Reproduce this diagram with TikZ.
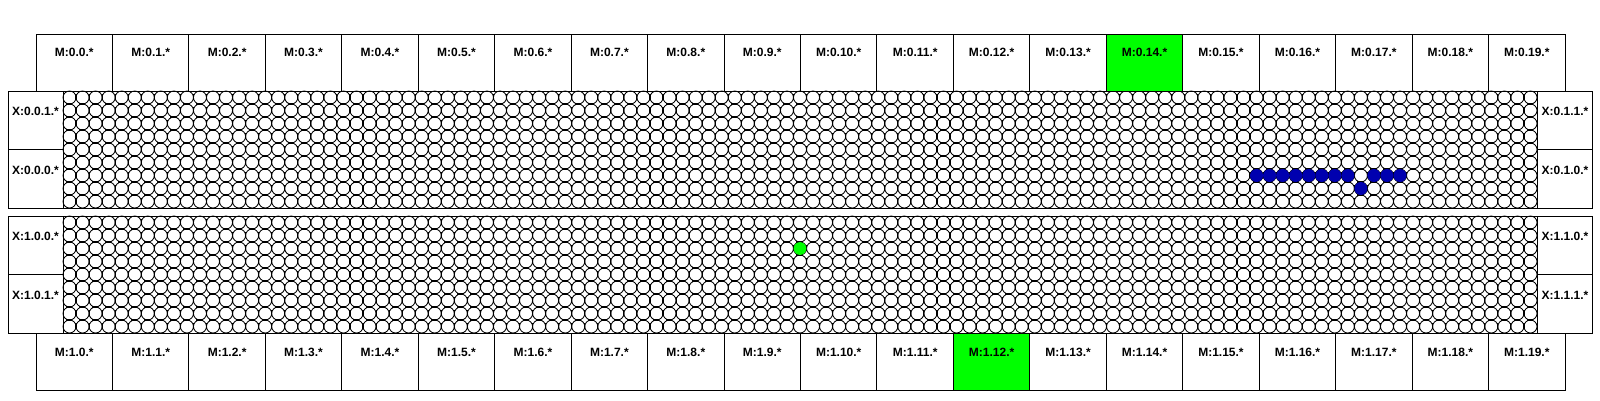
\documentclass[tikz,border=0pt]{standalone}
\usepackage{fontspec}
\setmainfont{Liberation Sans}
\definecolor{hotgreen}{RGB}{0,255,0}
\definecolor{dotblue}{RGB}{0,0,175}
\tikzset{
  boxline/.style={draw=black, line width=1pt},
  mbox/.style={boxline, rectangle, inner sep=0pt, outer sep=0pt, minimum width=76.45pt, minimum height=57pt},
  xbox/.style={boxline, rectangle, inner sep=0pt, outer sep=0pt, minimum width=55pt, minimum height=58.5pt},
  lbl/.style={anchor=base, inner sep=0pt, font=\fontsize{12}{14}\selectfont\bfseries},
  cell/.style={draw=black, line width=0.85pt},
  vtick/.style={draw=black, line width=1.1pt, dash pattern=on 6pt off 7pt, dash phase=10pt},
  htick/.style={draw=black, line width=1.1pt, dash pattern=on 6pt off 7.044pt, dash phase=10.044pt},
  grid/.style={boxline, rectangle, inner sep=0pt, outer sep=0pt, minimum width=1474pt, minimum height=117pt},
}
\begin{document}
\begin{tikzpicture}[x=1pt, y=-1pt]
\useasboundingbox[fill=white] (0,0) rectangle (1600,400);
% circle grids
\foreach \g/\gy in {0/91, 1/216} {
  \foreach \i in {0,...,112} {
    \foreach \j in {0,...,8} {
      \draw[cell] ({63+13.044*\i+6.522}, {\gy+13*\j+6.5}) ellipse [x radius=6.522, y radius=6.5];
    }
  }
  % corner crosses between touching circles
  \foreach \i in {1,...,112} {
    \draw[vtick] ({63+13.044*\i}, \gy) -- ({63+13.044*\i}, {\gy+117});
  }
  \foreach \j in {1,...,8} {
    \draw[htick] (63, {\gy+13*\j}) -- (1537, {\gy+13*\j});
  }
}
% grid frames
\node[grid] (g0) at (800, 149.5) {};
\node[grid] (g1) at (800, 274.5) {};
% highlighted cells
\foreach \i in {91,...,98,100,101,102} {
  \fill[dotblue] ({63+13.044*\i+6.522}, {91+13*6+6.5}) circle [radius=6.5];
}
\fill[dotblue] ({63+13.044*99+6.522}, {91+13*7+6.5}) circle [radius=6.5];
\fill[hotgreen] ({63+13.044*56+6.522}, {216+13*2+6.5}) circle [radius=6.4];
% top and bottom M boxes
\foreach \k in {0,...,19} {
  \pgfmathsetmacro{\cx}{36+76.45*\k+38.225}
  \ifnum\k=14
    \node[mbox, fill=hotgreen] (mt\k) at (\cx, 62.5) {};
  \else
    \node[mbox] (mt\k) at (\cx, 62.5) {};
  \fi
  \node[lbl] (mtl\k) at (\cx, 56.5) {M:0.\k.*};
  \ifnum\k=12
    \node[mbox, fill=hotgreen] (mb\k) at (\cx, 361.5) {};
  \else
    \node[mbox] (mb\k) at (\cx, 361.5) {};
  \fi
  \node[lbl] (mbl\k) at (\cx, 356.5) {M:1.\k.*};
}
% side X boxes
\node[xbox] (x001) at (35.5, 120.25) {};
\node[lbl] (x001l) at (35.5, 115.5) {X:0.0.1.*};
\node[xbox] (x000) at (35.5, 178.75) {};
\node[lbl] (x000l) at (35.5, 174) {X:0.0.0.*};
\node[xbox] (x011) at (1565, 120.25) {};
\node[lbl] (x011l) at (1565, 115.5) {X:0.1.1.*};
\node[xbox] (x010) at (1565, 178.75) {};
\node[lbl] (x010l) at (1565, 174) {X:0.1.0.*};
\node[xbox] (x100) at (35.5, 245.25) {};
\node[lbl] (x100l) at (35.5, 240.5) {X:1.0.0.*};
\node[xbox] (x101) at (35.5, 303.75) {};
\node[lbl] (x101l) at (35.5, 299) {X:1.0.1.*};
\node[xbox] (x110) at (1565, 245.25) {};
\node[lbl] (x110l) at (1565, 240.5) {X:1.1.0.*};
\node[xbox] (x111) at (1565, 303.75) {};
\node[lbl] (x111l) at (1565, 299) {X:1.1.1.*};
\end{tikzpicture}
\end{document}
